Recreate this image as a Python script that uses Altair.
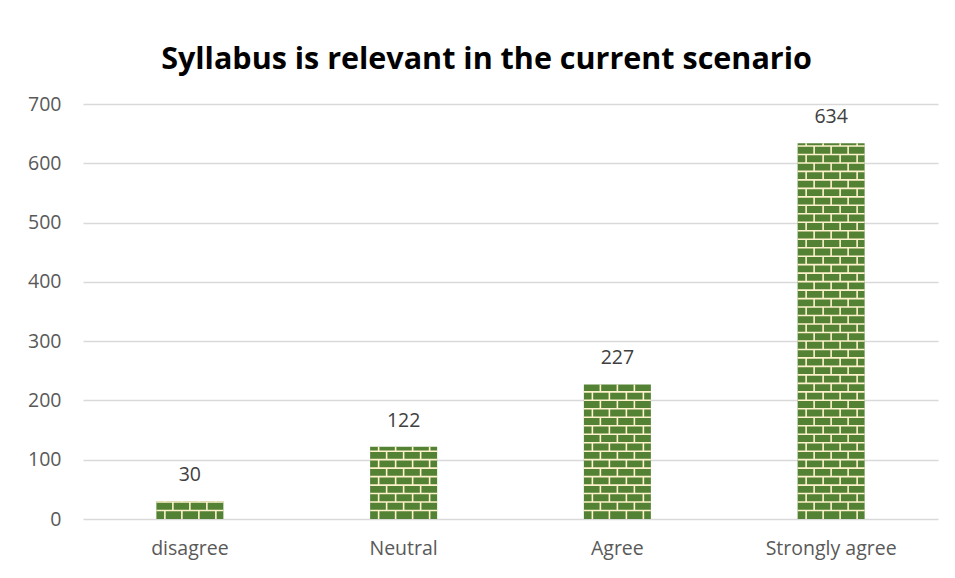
import altair as alt
import pandas as pd

categories = ["disagree", "Neutral", "Agree", "Strongly agree"]
values = [30, 122, 227, 634]
y_ticks = [0, 100, 200, 300, 400, 500, 600, 700]
title_text = "Syllabus is relevant in the current scenario"

df = pd.DataFrame({"cat": categories, "val": values})

# brick pattern rows derived from the values
step = 14.3
rows = []
for c, v in zip(categories, values):
    k = 0
    while k * step < v:
        rows.append({"cat": c, "y0": k * step, "y1": min((k + 1) * step, v), "par": k % 2})
        k += 1
rows_df = pd.DataFrame(rows)

GREEN = "#548235"
CREAM = "#FFF2CC"
FONT = "Open Sans"

xenc = alt.X("cat:N", sort=categories, title=None,
             scale=alt.Scale(paddingInner=0, paddingOuter=0),
             axis=alt.Axis(labelAngle=0, labelFontSize=19.5, labelColor="#595959",
                           labelFont=FONT, domain=False, ticks=False, labelPadding=20))
yscale = alt.Scale(domain=[0, 700], nice=False)

bars = alt.Chart(df).mark_bar(size=67, color=GREEN).encode(
    x=xenc,
    y=alt.Y("val:Q", scale=yscale, title=None,
            axis=alt.Axis(values=y_ticks, labelFontSize=19.5, labelColor="#595959",
                          labelFont=FONT, domain=False, ticks=False, labelPadding=22,
                          gridColor="#D9D9D9", gridWidth=1.3)),
)

hlines = alt.Chart(rows_df).transform_filter("datum.y0 > 0").mark_tick(
    color=CREAM, thickness=1.6, size=67, orient="horizontal", opacity=1
).encode(x=alt.X("cat:N", sort=categories), y=alt.Y("y0:Q", scale=yscale))

joint_layers = []
for par, offsets in [(0, [-25, -8, 9, 26]), (1, [-17, 0, 17])]:
    for o in offsets:
        joint_layers.append(
            alt.Chart(rows_df).transform_filter(f"datum.par == {par}").mark_rule(
                color=CREAM, strokeWidth=1.6, xOffset=o
            ).encode(x=alt.X("cat:N", sort=categories),
                     y=alt.Y("y0:Q", scale=yscale), y2="y1:Q")
        )

labels = alt.Chart(df).mark_text(dy=-16, fontSize=19.5, color="#404040", font=FONT,
                                 baseline="bottom").encode(
    x=alt.X("cat:N", sort=categories), y=alt.Y("val:Q", scale=yscale), text="val:Q")

chart = alt.layer(bars, hlines, *joint_layers, labels).properties(
    width=855, height=415,
    title=alt.TitleParams(title_text, fontSize=30.5, fontWeight="bold", font=FONT,
                          color="#000000", anchor="middle", dx=-24, offset=19),
    autosize="none",
    padding={"left": 75, "top": 96, "right": 9, "bottom": 51},
).configure_view(stroke=None)

chart.save("out.html", embed_options={"renderer": "svg", "actions": False})
